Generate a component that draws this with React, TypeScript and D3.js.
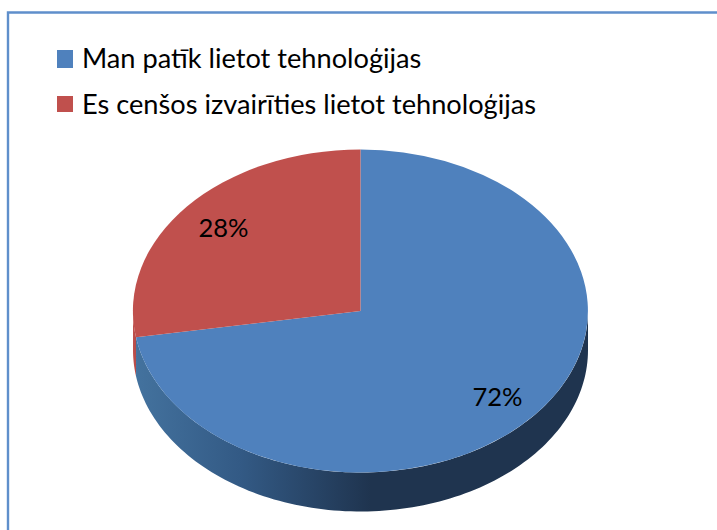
import React from "react";
import * as d3 from "d3";

const categories = ["Man patīk lietot tehnoloģijas", "Es cenšos izvairīties lietot tehnoloģijas"];
const values = [72.4, 27.6];
const colors = ["#4f81bd", "#c0504d"];

const W = 717, H = 530;
const cx = 360.5, cy = 311, rx = 227.5, ry = 161.5, depth = 39;
const FONT = "Lato, 'Noto Sans', sans-serif";
const labelNudge = [12, 9];

const total = d3.sum(values);
const pct = d3.format(".0%");
const slices = d3.pie<number>().sort(null)(values);
const arcGen = d3.arc<d3.PieArcDatum<number>>().innerRadius(0).outerRadius(1);
const labelArc = d3.arc<d3.PieArcDatum<number>>().innerRadius(0.79).outerRadius(0.79);

const px = (a: number) => cx + rx * Math.sin(a);
const py = (a: number) => cy - ry * Math.cos(a);

function wallPath(a0: number, a1: number) {
  const front = d3.range(0, 121).map((i) => a0 + ((a1 - a0) * i) / 120);
  const pts: [number, number][] = [
    ...front.map((a) => [px(a), py(a)] as [number, number]),
    ...front.slice().reverse().map((a) => [px(a), py(a) + depth] as [number, number]),
  ];
  return d3.line()(pts) + "Z";
}

export default function App() {
  return (
    <svg width={W} height={H} style={{ position: "absolute", left: 0, top: 0, display: "block" }}>
      <defs>
        <linearGradient id="blueWall" gradientUnits="userSpaceOnUse" x1={cx - rx} x2={cx + 10} y1="0" y2="0">
          <stop offset="0" stopColor="#44739f" />
          <stop offset="0.45" stopColor="#335a85" />
          <stop offset="1" stopColor="#1f344f" />
        </linearGradient>
        <linearGradient id="redWall" gradientUnits="userSpaceOnUse" x1={cx - rx} x2={cx - rx + 12} y1="0" y2="0">
          <stop offset="0" stopColor="#c0504d" />
          <stop offset="1" stopColor="#8f3b39" />
        </linearGradient>
      </defs>
      <rect width={W} height={H} fill="#fff" />
      <path d={`M8,${H}V12.5H${W}`} fill="none" stroke="#5f8fcb" strokeWidth={2.4} />

      {categories.map((c, i) => (
        <g key={c}>
          <rect x={57} y={i === 0 ? 50 : 96} width={16} height={i === 0 ? 18 : 16} fill={colors[i]} />
          <text x={82} y={i === 0 ? 68 : 114} fontFamily={FONT} fontSize={27.2} fill="#000">{c}</text>
        </g>
      ))}

      <path d={wallPath(slices[1].startAngle, 1.5 * Math.PI)} fill="url(#redWall)" />
      <path d={wallPath(Math.PI / 2, slices[1].startAngle)} fill="url(#blueWall)" />

      {slices.map((s, i) => (
        <path
          key={i}
          d={arcGen(s) || ""}
          transform={`translate(${cx},${cy}) scale(${rx},${ry})`}
          fill={colors[i]}
        />
      ))}

      {slices.map((s, i) => {
        const [x, y] = labelArc.centroid(s);
        return (
          <text
            key={i}
            x={cx + x * rx}
            y={cy + y * ry + labelNudge[i]}
            textAnchor="middle"
            fontFamily={FONT}
            fontSize={25.5}
            fill="#000"
          >
            {pct(values[i] / total)}
          </text>
        );
      })}
    </svg>
  );
}
